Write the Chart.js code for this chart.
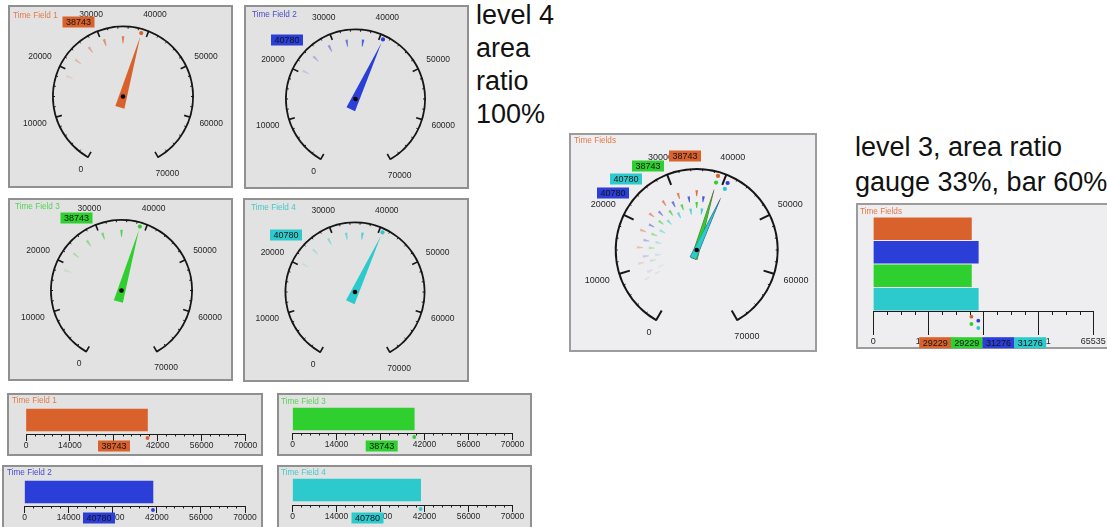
<!DOCTYPE html>
<html>
<head>
<meta charset="utf-8">
<title>Time Fields - gauges and bars</title>
<script src="https://cdn.jsdelivr.net/npm/chart.js@4.4.0/dist/chart.umd.min.js"></script>
<style>
	html, body { margin: 0; overflow: hidden; }
	body { position: relative; width: 1107px; height: 527px; background: #fff; font-family: "Liberation Sans", Arial, sans-serif; }
	.panel { position: absolute; box-sizing: border-box; border: 2px solid #909090; background: #e2e2e2; }
	.panel.light { background: #eeedef; border-color: #9c9c9c; }
	canvas.chart { position: absolute; }
	.note { position: absolute; color: #111; font-size: 27px; white-space: nowrap; }
</style>
</head>
<body>
<div class="note" style="left:476px; top:-1px; line-height:33px">level 4<br>area<br>ratio<br>100%</div>
<div class="note" style="left:855px; top:130px; line-height:35px">level 3, area ratio<br>gauge 33%, bar 60%</div>
<script>
	// ---- data ----
	const fieldNames = ['Time Field 1', 'Time Field 2', 'Time Field 3', 'Time Field 4'];
	const gaugeValues = [38743, 40780, 38743, 40780];
	// earlier readings (newest first), drawn as the fading marks
	const history1 = [35000, 30700, 26900, 22800, 18600, 14600, 10900, 7000];
	const history2 = [36700, 33000, 28800, 24600, 20600, 16500, 12400, 8400];
	const history3 = [35000, 30700, 26900, 22800, 18600, 14600, 10900, 7000];
	const history4 = [36700, 33000, 28800, 24600, 20600, 16500, 12400, 8400];
	const gaugeMin = 0;
	const gaugeMax = 70000;
	const gaugeLabels = [0, 10000, 20000, 30000, 40000, 50000, 60000, 70000];
	const gaugeMinorStep = 2000;
	const barTicks = [0, 14000, 28000, 42000, 56000, 70000];
	const barMinorStep = 2800;
	const combinedBarValues = [29229, 31276, 29229, 31276];
	const combinedMax = 65535;
	const combinedTicks = [0, 16384, 32768, 49151, 65535];
	const combinedMinorStep = 4096;

	const histories = [history1, history2, history3, history4];
	const fieldColors = ['#d9612b', '#2b3ed8', '#2fcf2f', '#2dcacd'];
	const titleColors = ['#e27a48', '#4b4bc9', '#55d455', '#45c9c9'];
	const FONT = '"Liberation Sans", Arial, sans-serif';
	Chart.defaults.font.family = FONT;

	// ---- layout (page pixels) ----
	const gaugePanels = [
		{ x: 8, y: 5, w: 225, h: 183, cx: 123, cy: 96.5, r: 71, fields: [0], boxes: [[78.5, 22]], title: [13, 16], text: fieldNames[0] },
		{ x: 244, y: 5, w: 225, h: 184, cx: 355.5, cy: 99, r: 70.5, fields: [1], boxes: [[287, 40]], title: [252, 15], text: fieldNames[1] },
		{ x: 8, y: 198, w: 225, h: 183, cx: 121.5, cy: 290.5, r: 71.5, fields: [2], boxes: [[76.5, 218]], title: [15, 207], text: fieldNames[2] },
		{ x: 243, y: 198, w: 226, h: 184, cx: 355, cy: 292, r: 70.5, fields: [3], boxes: [[286, 235]], title: [251, 208], text: fieldNames[3] }
	];
	const combinedGauge = { x: 569, y: 133, w: 248, h: 219, cx: 696.7, cy: 250, r: 82, fields: [0, 1, 2, 3],
		boxes: [[685, 156], [613, 193], [648, 166], [626, 179]], title: [574, 141], text: 'Time Fields' };

	const singleStyle = { light: false, ring: 1.8, majorLen: 7, minorLen: 3, majorWidth: 1.6, fontSize: 8.5, labelGap: 9,
		trailR: [0.85], trailLen: 7, trailAlpha: [0.8, 0.62, 0.46, 0.3, 0.16],
		needleTip: [0.88], needleTail: 0.16, needleHalf: 4.7, markR: [0.93], hub: 2.3, edge: false };
	const combinedStyle = { light: true, ring: 2, majorLen: 12, minorLen: 3, majorWidth: 2, fontSize: 9, labelGap: 9,
		trailR: [0.73, 0.66, 0.585, 0.51], trailLen: 6, trailAlpha: [0.9, 0.8, 0.68, 0.56, 0.44, 0.32, 0.2, 0.1],
		needleTip: [0.77, 0.7, 0.75, 0.67], needleTail: 0.11, needleHalf: 3.2, markR: [0.94, 0.9, 0.855, 0.82], hub: 2.3, edge: true };

	const barPanels = [
		{ x: 7, y: 393, w: 256, h: 63, field: 0, x0: 26, x1: 245.5, barTop: 409, barBot: 431, axisY: 434, box: [114, 446], title: [12, 401] },
		{ x: 2, y: 465, w: 261, h: 70, field: 1, x0: 24.5, x1: 245, barTop: 481, barBot: 503, axisY: 506, box: [99, 518], title: [7, 473] },
		{ x: 277, y: 393, w: 255, h: 63, field: 2, x0: 292.5, x1: 512.5, barTop: 408, barBot: 430, axisY: 433, box: [381.7, 446], title: [281, 402] },
		{ x: 277, y: 465, w: 255, h: 70, field: 3, x0: 292.5, x1: 512.5, barTop: 479, barBot: 501, axisY: 505, box: [367.5, 518], title: [281, 473] }
	];
	const combinedBar = { x: 856, y: 203, w: 262, h: 146, x0: 873.3, x1: 1093.3, areaTop: 217, axisY: 311, barThickness: 21.7,
		boxes: [[935.2, 342.7], [998.5, 342.7], [966.8, 342.7], [1030.2, 342.7]], title: [860, 212] };

	// ---- helpers ----
	function makeCanvas(p, light) {
		const div = document.createElement('div');
		div.className = 'panel' + (light ? ' light' : '');
		div.style.left = p.x + 'px'; div.style.top = p.y + 'px';
		div.style.width = p.w + 'px'; div.style.height = p.h + 'px';
		document.body.appendChild(div);
		const c = document.createElement('canvas');
		c.className = 'chart';
		c.width = p.w; c.height = p.h;
		c.style.left = p.x + 'px'; c.style.top = p.y + 'px';
		document.body.appendChild(c);
		return c;
	}

	function drawBox(ctx, x, y, color, value) {
		ctx.fillStyle = color;
		ctx.fillRect(x - 16, y - 5.5, 32, 11);
		ctx.fillStyle = '#141414';
		ctx.font = '9px ' + FONT;
		ctx.textAlign = 'center';
		ctx.textBaseline = 'middle';
		ctx.fillText(String(value), x, y + 0.5);
	}

	function drawTitle(ctx, x, y, text, color) {
		ctx.fillStyle = color;
		ctx.font = '8.2px ' + FONT;
		ctx.textAlign = 'left';
		ctx.textBaseline = 'middle';
		ctx.fillText(text, x, y);
	}

	// padding that puts the chart area centre at (cx, cy)
	function centerPadding(W, H, cx, cy) {
		const pad = { left: 0, right: 0, top: 0, bottom: 0 };
		if (cx < W / 2) pad.right = W - 2 * cx; else pad.left = 2 * cx - W;
		if (cy < H / 2) pad.bottom = H - 2 * cy; else pad.top = 2 * cy - H;
		return pad;
	}

	// ---- gauges: doughnut ring is the dial, the rest is read from its arc ----
	function drawGauge(chart, p, st) {
		const arc = chart.getDatasetMeta(0).data[0];
		const ctx = chart.ctx;
		const cx = arc.x, cy = arc.y, R = arc.outerRadius;
		const ang = v => arc.startAngle + (v - gaugeMin) / (gaugeMax - gaugeMin) * (arc.endAngle - arc.startAngle);
		const px = (a, r) => cx + Math.cos(a) * r;
		const py = (a, r) => cy + Math.sin(a) * r;
		ctx.save();

		// dial ticks
		ctx.strokeStyle = '#161616';
		for (let v = gaugeMin; v <= gaugeMax; v += gaugeMinorStep) {
			const major = gaugeLabels.indexOf(v) >= 0;
			const a = ang(v), len = major ? st.majorLen : st.minorLen;
			ctx.lineWidth = major ? st.majorWidth : 1;
			ctx.beginPath();
			ctx.moveTo(px(a, R - 0.5), py(a, R - 0.5));
			ctx.lineTo(px(a, R - len), py(a, R - len));
			ctx.stroke();
		}

		// dial labels
		ctx.font = st.fontSize + 'px ' + FONT;
		ctx.fillStyle = '#262626';
		ctx.textAlign = 'center';
		ctx.textBaseline = 'middle';
		gaugeLabels.forEach(v => {
			const a = ang(v), t = String(v), w = ctx.measureText(t).width;
			const r = R + st.labelGap + w / 2 * Math.abs(Math.cos(a)) + st.fontSize * 0.4 * Math.abs(Math.sin(a));
			ctx.fillText(t, px(a, r), py(a, r));
		});

		// fading history marks
		p.fields.forEach((f, k) => {
			const hist = histories[f];
			const rOut = R * st.trailR[k], rIn = rOut - st.trailLen;
			for (let i = Math.min(st.trailAlpha.length, hist.length) - 1; i >= 0; i--) {
				const a = ang(hist[i]);
				const nx = -Math.sin(a), ny = Math.cos(a);
				ctx.globalAlpha = st.trailAlpha[i];
				ctx.fillStyle = fieldColors[f];
				ctx.beginPath();
				ctx.moveTo(px(a, rIn) + nx * 0.4, py(a, rIn) + ny * 0.4);
				ctx.lineTo(px(a, rOut) + nx * 1.3, py(a, rOut) + ny * 1.3);
				ctx.lineTo(px(a, rOut) - nx * 1.3, py(a, rOut) - ny * 1.3);
				ctx.lineTo(px(a, rIn) - nx * 0.4, py(a, rIn) - ny * 0.4);
				ctx.closePath();
				ctx.fill();
			}
		});
		ctx.globalAlpha = 1;

		// needles
		p.fields.forEach((f, k) => {
			const a = ang(gaugeValues[f]);
			const tip = R * st.needleTip[k], tail = R * st.needleTail, hw = st.needleHalf;
			const nx = -Math.sin(a), ny = Math.cos(a);
			ctx.beginPath();
			ctx.moveTo(px(a, tip), py(a, tip));
			ctx.lineTo(px(a, -tail) + nx * hw, py(a, -tail) + ny * hw);
			ctx.lineTo(px(a, -tail) - nx * hw, py(a, -tail) - ny * hw);
			ctx.closePath();
			ctx.fillStyle = fieldColors[f];
			ctx.fill();
			if (st.edge) {
				ctx.strokeStyle = 'rgba(0,0,0,0.25)';
				ctx.lineWidth = 0.6;
				ctx.stroke();
			}
		});

		// value markers near the rim
		p.fields.forEach((f, k) => {
			const a = ang(gaugeValues[f]), r = R * st.markR[k];
			ctx.fillStyle = fieldColors[f];
			ctx.beginPath();
			ctx.arc(px(a, r), py(a, r), 2.1, 0, Math.PI * 2);
			ctx.fill();
		});

		// hub
		ctx.fillStyle = '#000';
		ctx.beginPath();
		ctx.arc(cx, cy, st.hub, 0, Math.PI * 2);
		ctx.fill();

		p.fields.forEach((f, k) => drawBox(ctx, p.boxes[k][0] - p.x, p.boxes[k][1] - p.y, fieldColors[f], gaugeValues[f]));
		drawTitle(ctx, p.title[0] - p.x, p.title[1] - p.y, p.text, titleColors[p.fields[0]]);
		ctx.restore();
	}

	function makeGauge(p, st) {
		const canvas = makeCanvas(p, st.light);
		const shift = (1 - Math.cos(Math.PI / 6)) / 2 * p.r; // doughnut centre offset for a 300 degree arc
		return new Chart(canvas, {
			type: 'doughnut',
			data: {
				labels: ['range'],
				datasets: [{ data: [gaugeMax - gaugeMin], backgroundColor: ['#161616'], borderWidth: 0 }]
			},
			options: {
				responsive: false, animation: false, events: [],
				rotation: -150, circumference: 300,
				radius: p.r, cutout: (100 * (1 - st.ring / p.r)) + '%',
				layout: { padding: centerPadding(p.w, p.h, p.cx - p.x, p.cy - p.y - shift) },
				plugins: { legend: { display: false }, tooltip: { enabled: false } }
			},
			plugins: [{ id: 'gaugeDeco', afterDatasetsDraw: chart => drawGauge(chart, p, st) }]
		});
	}

	// ---- bars ----
	function drawBarDeco(chart, p, cfg) {
		const ctx = chart.ctx, xs = chart.scales.x, ay = chart.chartArea.bottom;
		const ds = chart.data.datasets[0];
		ctx.save();
		// minor ticks
		ctx.strokeStyle = '#1c1c1c';
		ctx.lineWidth = 1;
		for (let v = cfg.minorStep; v < cfg.max; v += cfg.minorStep) {
			if (cfg.ticks.some(t => Math.abs(t - v) < cfg.minorStep / 2)) continue;
			const x = Math.round(xs.getPixelForValue(v)) + 0.5;
			ctx.beginPath();
			ctx.moveTo(x, ay);
			ctx.lineTo(x, ay + cfg.minorLen);
			ctx.stroke();
		}
		// value dots under the axis
		ds.data.forEach((v, i) => {
			ctx.fillStyle = ds.backgroundColor[i];
			ctx.beginPath();
			ctx.arc(xs.getPixelForValue(v), ay + cfg.dotOffsets[i], 1.9, 0, Math.PI * 2);
			ctx.fill();
		});
		cfg.boxFields.forEach((f, i) => drawBox(ctx, cfg.boxes[i][0] - p.x, cfg.boxes[i][1] - p.y, fieldColors[f], ds.data[cfg.fields.indexOf(f)]));
		drawTitle(ctx, p.title[0] - p.x, p.title[1] - p.y, cfg.text, cfg.titleColor);
		ctx.restore();
	}

	function makeBar(p, cfg) {
		const canvas = makeCanvas(p, cfg.light);
		const axisLocal = p.axisY - p.y;
		return new Chart(canvas, {
			type: 'bar',
			data: {
				labels: cfg.fields.map(f => fieldNames[f]),
				datasets: [{ data: cfg.values, backgroundColor: cfg.fields.map(f => fieldColors[f]), borderWidth: 0, barThickness: cfg.barThickness }]
			},
			options: {
				indexAxis: 'y', responsive: false, animation: false, events: [],
				layout: { padding: { left: p.x0 - p.x, right: p.x + p.w - p.x1, top: cfg.areaTop - p.y, bottom: 0 } },
				plugins: { legend: { display: false }, tooltip: { enabled: false } },
				scales: {
					x: {
						min: 0, max: cfg.max,
						afterBuildTicks: s => { s.ticks = cfg.ticks.map(v => ({ value: v })); },
						afterFit: s => { s.height = p.h - axisLocal; },
						grid: { drawOnChartArea: false, tickLength: cfg.tickLen, color: '#1c1c1c', lineWidth: 1 },
						border: { display: true, color: '#1c1c1c', width: 1 },
						ticks: { autoSkip: false, maxRotation: 0, padding: cfg.labelPad, color: '#262626', font: { size: cfg.fontSize }, callback: v => String(v) }
					},
					y: { display: false }
				}
			},
			plugins: [{ id: 'barDeco', afterDraw: chart => drawBarDeco(chart, p, cfg) }]
		});
	}

	// ---- build ----
	gaugePanels.forEach(p => makeGauge(p, singleStyle));
	makeGauge(combinedGauge, combinedStyle);

	barPanels.forEach(p => {
		makeBar(p, {
			light: false, fields: [p.field], values: [gaugeValues[p.field]], max: gaugeMax,
			ticks: barTicks, minorStep: barMinorStep, tickLen: 7, minorLen: 2.5, labelPad: 0, fontSize: 8.5,
			areaTop: p.barTop + p.barBot - p.axisY, barThickness: p.barBot - p.barTop,
			dotOffsets: [4], boxFields: [p.field], boxes: [p.box],
			text: fieldNames[p.field], titleColor: titleColors[p.field]
		});
	});

	makeBar(combinedBar, {
		light: true, fields: [0, 1, 2, 3], values: combinedBarValues, max: combinedMax,
		ticks: combinedTicks, minorStep: combinedMinorStep, tickLen: 24, minorLen: 4, labelPad: 1, fontSize: 9,
		areaTop: combinedBar.areaTop, barThickness: combinedBar.barThickness,
		dotOffsets: [5.7, 9.7, 13, 17], boxFields: [0, 2, 1, 3],
		boxes: [combinedBar.boxes[0], combinedBar.boxes[2], combinedBar.boxes[1], combinedBar.boxes[3]],
		text: 'Time Fields', titleColor: titleColors[0]
	});
</script>
</body>
</html>
